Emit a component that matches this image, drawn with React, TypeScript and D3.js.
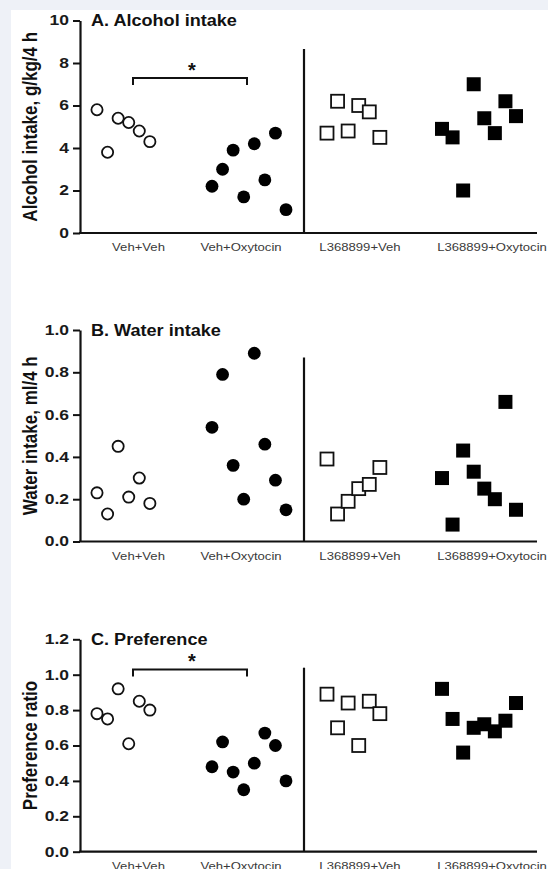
import { useEffect, useRef } from 'react';
import * as d3 from 'd3';

const groups = ['Veh+Veh', 'Veh+Oxytocin', 'L368899+Veh', 'L368899+Oxytocin'];

// A. Alcohol intake (g/kg/4 h)
const alcVehVeh = [5.8, 3.8, 5.4, 5.2, 4.8, 4.3];
const alcVehOxy = [2.2, 3.0, 3.9, 1.7, 4.2, 2.5, 4.7, 1.1];
const alcLVeh = [4.7, 6.2, 4.8, 6.0, 5.7, 4.5];
const alcLOxy = [4.9, 4.5, 2.0, 7.0, 5.4, 4.7, 6.2, 5.5];
const alcTicks = [0, 2, 4, 6, 8, 10];

// B. Water intake (ml/4 h)
const watVehVeh = [0.23, 0.13, 0.45, 0.21, 0.30, 0.18];
const watVehOxy = [0.54, 0.79, 0.36, 0.20, 0.89, 0.46, 0.29, 0.15];
const watLVeh = [0.39, 0.13, 0.19, 0.25, 0.27, 0.35];
const watLOxy = [0.30, 0.08, 0.43, 0.33, 0.25, 0.20, 0.66, 0.15];
const watTicks = [0, 0.2, 0.4, 0.6, 0.8, 1.0];

// C. Preference ratio
const prefVehVeh = [0.78, 0.75, 0.92, 0.61, 0.85, 0.80];
const prefVehOxy = [0.48, 0.62, 0.45, 0.35, 0.50, 0.67, 0.60, 0.40];
const prefLVeh = [0.89, 0.70, 0.84, 0.60, 0.85, 0.78];
const prefLOxy = [0.92, 0.75, 0.56, 0.70, 0.72, 0.68, 0.74, 0.84];
const prefTicks = [0, 0.2, 0.4, 0.6, 0.8, 1.0, 1.2];

const FONT = '"Liberation Sans", Arial, sans-serif';

export default function App() {
  const svgRef = useRef<SVGSVGElement>(null);

  useEffect(() => {
    if (!svgRef.current) return;
    const svg = d3.select(svgRef.current);
    svg.selectAll('*').remove();

    const W = 548, H = 869;
    svg.append('rect').attr('width', W).attr('height', H).attr('fill', '#eef1f7');
    svg.append('rect').attr('x', 11).attr('y', 10).attr('width', W - 11).attr('height', H - 10).attr('fill', '#fff');

    const x = d3.scaleBand().domain(groups).range([80, 540]).padding(0);
    const xIdx = d3.scaleLinear().domain([0, 7]).range([17, 91]);
    const labelShift = [1, -11.5, -7.5, 9.5];

    const panels = [
      { title: 'A. Alcohol intake', ylabel: 'Alcohol intake, g/kg/4 h', domain: [0, 10], range: [233, 20.5],
        ticks: alcTicks, fmt: d3.format('d'), series: [alcVehVeh, alcVehOxy, alcLVeh, alcLOxy], bracket: 7.3 },
      { title: 'B. Water intake', ylabel: 'Water intake, ml/4 h', domain: [0, 1], range: [541.5, 330],
        ticks: watTicks, fmt: d3.format('.1f'), series: [watVehVeh, watVehOxy, watLVeh, watLOxy], bracket: null },
      { title: 'C. Preference', ylabel: 'Preference ratio', domain: [0, 1.2], range: [851.7, 639.3],
        ticks: prefTicks, fmt: d3.format('.1f'), series: [prefVehVeh, prefVehOxy, prefLVeh, prefLOxy], bracket: 1.03 },
    ];

    panels.forEach(p => {
      const y = d3.scaleLinear().domain(p.domain).range(p.range);
      const y0 = y(0);
      const g = svg.append('g');

      // y axis
      const ax = g.append('g')
        .attr('transform', 'translate(80,0)')
        .call(d3.axisLeft(y).tickValues(p.ticks).tickFormat(p.fmt as any).tickSize(7).tickSizeOuter(0));
      ax.select('.domain').attr('stroke', '#111').attr('stroke-width', 2.2);
      ax.selectAll('.tick line').attr('stroke', '#111').attr('stroke-width', 2);
      ax.selectAll('.tick text')
        .attr('x', -11 / 1.25)
        .attr('transform', 'scale(1.25,1)')
        .attr('font-family', FONT)
        .attr('font-size', 14)
        .attr('font-weight', 'bold')
        .attr('fill', '#1a1a1a');

      // x axis line
      g.append('line')
        .attr('x1', 79).attr('x2', x.range()[1] - 3)
        .attr('y1', y0).attr('y2', y0)
        .attr('stroke', '#111').attr('stroke-width', 2.2);

      // divider
      const dx = (x(groups[2]) as number) - 6;
      g.append('line')
        .attr('x1', dx).attr('x2', dx)
        .attr('y1', y0 - 184).attr('y2', y0)
        .attr('stroke', '#111').attr('stroke-width', 2.2);

      // title
      g.append('text')
        .attr('transform', `translate(91,${p.range[1] + 5.5}) scale(1.13,1)`)
        .attr('font-family', FONT).attr('font-size', 16).attr('font-weight', 'bold')
        .attr('fill', '#111')
        .text(p.title);

      // y label
      g.append('text')
        .attr('transform', `translate(36.5,${(p.range[0] + p.range[1]) / 2}) scale(1.2,1) rotate(-90)`)
        .attr('text-anchor', 'middle')
        .attr('font-family', FONT).attr('font-size', 17).attr('font-weight', 'bold')
        .attr('fill', '#111')
        .text(p.ylabel);

      // category labels
      groups.forEach((grp, i) => {
        const cx = (x(grp) as number) + x.bandwidth() / 2 + labelShift[i];
        g.append('text')
          .attr('transform', `translate(${cx},${y0 + 18}) scale(1.14,1)`)
          .attr('text-anchor', 'middle')
          .attr('font-family', FONT).attr('font-size', 11.5)
          .attr('fill', '#3a3a3a')
          .text(grp);
      });

      // significance bracket
      if (p.bracket !== null) {
        const bx1 = (x(groups[0]) as number) + x.bandwidth() / 2 - 4.5;
        const bx2 = (x(groups[1]) as number) + x.bandwidth() / 2 - 5.5;
        const by = y(p.bracket);
        g.append('path')
          .attr('d', `M${bx1},${by + 7}V${by}H${bx2}V${by + 7}`)
          .attr('fill', 'none').attr('stroke', '#111').attr('stroke-width', 2);
        g.append('text')
          .attr('x', (bx1 + bx2) / 2 + 2).attr('y', by - 1)
          .attr('text-anchor', 'middle')
          .attr('font-family', FONT).attr('font-size', 20).attr('font-weight', 'bold')
          .attr('fill', '#111')
          .text('*');
      }

      // points
      p.series.forEach((vals, gi) => {
        const gx = x(groups[gi]) as number;
        const filled = gi === 1 || gi === 3;
        const square = gi >= 2;
        vals.forEach((v, i) => {
          const cx = gx + xIdx(i);
          const cy = y(v);
          if (square) {
            const s = filled ? 14 : 13;
            g.append('rect')
              .attr('x', cx - s / 2).attr('y', cy - s / 2)
              .attr('width', s).attr('height', s)
              .attr('fill', filled ? '#000' : '#fff')
              .attr('stroke', filled ? 'none' : '#111')
              .attr('stroke-width', 1.8);
          } else {
            g.append('circle')
              .attr('cx', cx).attr('cy', cy)
              .attr('r', filled ? 6.4 : 5.6)
              .attr('fill', filled ? '#000' : '#fff')
              .attr('stroke', filled ? 'none' : '#111')
              .attr('stroke-width', 1.8);
          }
        });
      });
    });
  }, []);

  return (
    <svg
      ref={svgRef}
      width={548}
      height={869}
      style={{ position: 'absolute', left: 0, top: 0, display: 'block' }}
    />
  );
}
